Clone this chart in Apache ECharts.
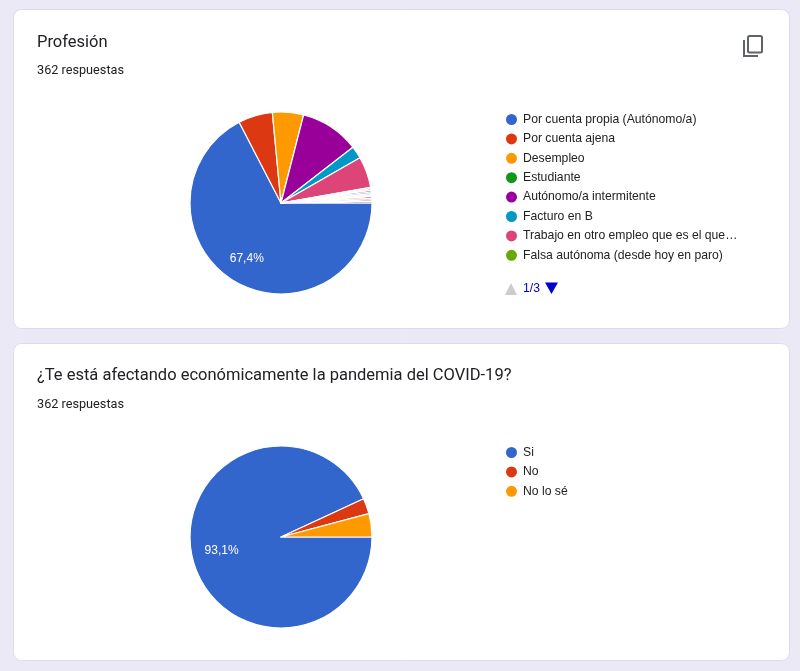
<!DOCTYPE html>
<html>
<head>
<meta charset="utf-8">
<title>Encuesta</title>
<script src="https://cdn.jsdelivr.net/npm/echarts@6/dist/echarts.min.js"></script>
<style>
html,body{margin:0;padding:0;background:#ece9f7;}
#main{width:800px;height:671px;}
</style>
</head>
<body>
<div id="main"></div>
<script>
/* pie 1: Profesión */
var profesionNames = ['Por cuenta propia (Autónomo/a)','Por cuenta ajena','Desempleo','Estudiante','Autónomo/a intermitente','Facturo en B','Trabajo en otro empleo que es el que…','Falsa autónoma (desde hoy en paro)','Otra 1','Otra 2','Otra 3','Otra 4','Otra 5','Otra 6','Otra 7','Otra 8','Otra 9'];
var profesionValues = [244,22,20,0,38,8,20,1,1,1,1,1,1,1,1,1,1];
var legendPageSize = 8;
var legendPageText = '1/3';
/* pie 2: COVID-19 */
var covidNames = ['Si','No','No lo sé'];
var covidValues = [337,10,15];
var colors = ['#3366cc','#dc3912','#ff9900','#109618','#990099','#0099c6','#dd4477','#66aa00','#b82e2e','#316395','#994499','#22aa99','#aaaa11','#6633cc','#e67300','#8b0707','#651067'];

var font = 'Liberation Sans';
var chart = echarts.init(document.getElementById('main'));

function buildData(names, values){
    return names.map(function(n, i){
        return {name:n, value:values[i], label:{show:i === 0}};
    });
}
function percentText(p){
    return p.percent.toFixed(1).replace('.', ',') + '%';
}
function card(y, h){
    return {type:'rect', shape:{x:13.5, y:y, width:776, height:h, r:8},
        style:{fill:'#fff', stroke:'#dcdaf0', lineWidth:1}};
}
function pie(cy, data, dx, dy){
    return {
        type:'pie', radius:[0,91], center:[281,cy], startAngle:0,
        avoidLabelOverlap:false, animation:false, silent:true,
        itemStyle:{borderColor:'#fff', borderWidth:1.2},
        label:{position:'inside', color:'#fff', fontFamily:font, fontSize:12, formatter:percentText},
        labelLine:{show:false},
        labelLayout:{dx:dx, dy:dy},
        data:data
    };
}
function legend(top, names){
    return {
        orient:'vertical', left:499, top:top,
        data:names, icon:'circle', itemWidth:13, itemHeight:13, itemGap:4.4,
        textStyle:{fontFamily:font, fontSize:12.2, color:'#222'},
        selectedMode:false
    };
}

chart.setOption({
    backgroundColor:'#ece9f7',
    color:colors,
    animation:false,
    title:[
        {text:'Profesión', left:32, top:29, textStyle:{fontFamily:'Roboto', fontSize:16.5, fontWeight:'normal', color:'#202124'}},
        {text:'362 respuestas', left:32, top:59, textStyle:{fontFamily:'Roboto', fontSize:12.7, fontWeight:'normal', color:'#202124'}},
        {text:'¿Te está afectando económicamente la pandemia del COVID-19?', left:32, top:362, textStyle:{fontFamily:'Roboto', fontSize:16.5, fontWeight:'normal', color:'#202124'}},
        {text:'362 respuestas', left:32, top:393, textStyle:{fontFamily:'Roboto', fontSize:12.7, fontWeight:'normal', color:'#202124'}}
    ],
    legend:[
        legend(107, profesionNames.slice(0, legendPageSize)),
        legend(440, covidNames)
    ],
    graphic:[
        card(9.5, 319),
        card(343.5, 317),
        /* copy icon */
        {type:'polyline', shape:{points:[[744,40],[744,56],[758,56]]}, style:{fill:null, stroke:'#5f6368', lineWidth:2}},
        {type:'rect', shape:{x:748, y:36, width:14, height:16.5, r:1.5}, style:{fill:'#fff', stroke:'#5f6368', lineWidth:2}},
        /* legend pager */
        {type:'polygon', shape:{points:[[505,295],[517,295],[511,283]]}, style:{fill:'#ccc'}},
        {type:'text', x:523, y:283, style:{text:legendPageText, fontFamily:font, fontSize:12.2, fill:'#0000cc'}},
        {type:'polygon', shape:{points:[[545,282.5],[558,282.5],[551.5,294]]}, style:{fill:'#0000cc'}}
    ],
    series:[
        pie(203, buildData(profesionNames, profesionValues), -9, 14),
        pie(537, buildData(covidNames, covidValues), -12, 3)
    ]
});
</script>
</body>
</html>
